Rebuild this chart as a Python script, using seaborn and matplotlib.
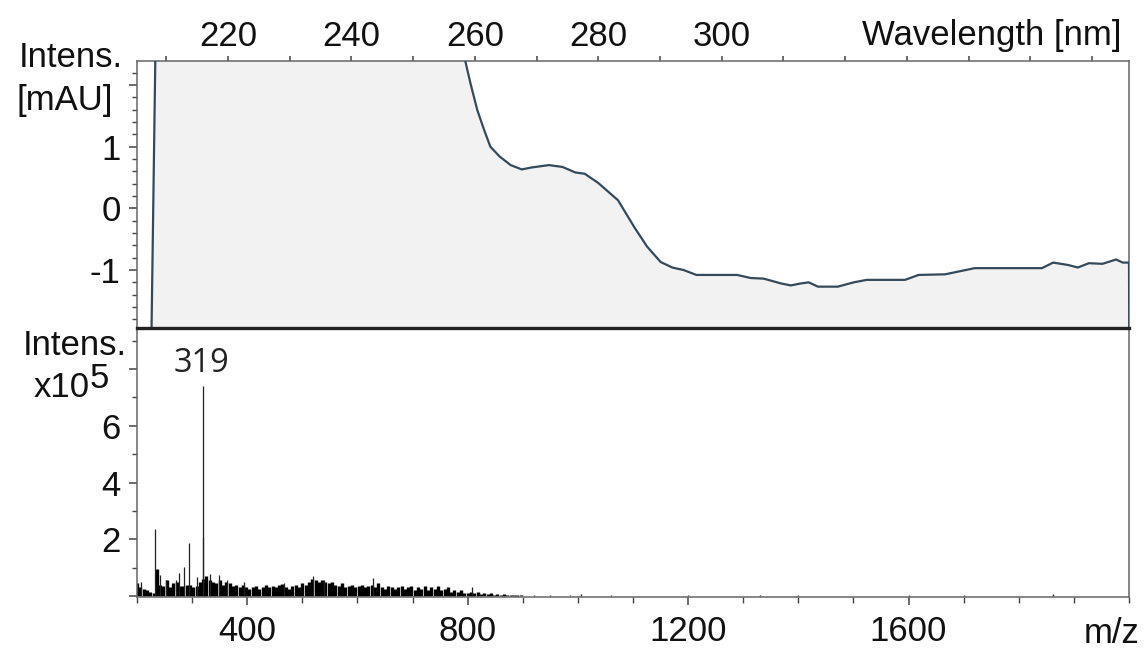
import matplotlib
matplotlib.use("Agg")
import matplotlib.pyplot as plt
import seaborn as sns
import pandas as pd
import numpy as np

# ---------------- data ----------------
# UV spectrum (top panel)
wavelength = [207.6, 208.3, 258.3, 259.3, 260.4, 261.5, 262.5, 264.0, 265.8, 267.6,
              269.1, 272.0, 274.2, 276.3, 277.8, 280.0, 283.2, 285.8, 287.9, 290.1,
              292.0, 293.8, 295.9, 302.5, 304.7, 306.8, 309.7, 311.2, 312.7, 314.1,
              315.6, 318.8, 321.4, 323.5, 329.7, 331.9, 336.2, 341.0, 351.9, 353.7,
              356.2, 357.7, 359.5, 361.7, 363.9, 365.0, 366.0, 366.05]
intensity_mau = [-2.0, 3.0, 2.45, 2.02, 1.59, 1.27, 1.00, 0.84, 0.70, 0.63,
                 0.66, 0.70, 0.67, 0.58, 0.56, 0.41, 0.13, -0.30, -0.62, -0.87,
                 -0.96, -1.00, -1.08, -1.08, -1.13, -1.14, -1.22, -1.25, -1.22, -1.20,
                 -1.27, -1.27, -1.20, -1.16, -1.16, -1.08, -1.07, -0.97, -0.97, -0.88,
                 -0.92, -0.96, -0.89, -0.90, -0.83, -0.88, -0.88, -2.0]

# Mass spectrum (bottom panel), intensities in units of 1e5
peak_mz = [208, 233, 242, 253, 270, 276, 286, 294, 309, 319, 320, 333, 348, 364,
           394, 467, 520, 540, 629, 807]
peak_int = [0.50, 2.35, 0.74, 0.56, 0.56, 0.82, 1.01, 1.88, 0.68, 7.42, 2.09, 0.78,
            0.74, 0.56, 0.50, 0.45, 0.70, 0.58, 0.62, 0.33]

bg_mz = [200, 206, 212, 218, 224, 230, 236, 242, 248, 254, 260, 266, 272, 278, 284,
         290, 296, 302, 308, 314, 320, 326, 332, 338, 344, 350, 356, 362, 368, 374,
         380, 386, 392, 398, 404, 410, 416, 422, 428, 434, 440, 446, 452, 458, 464,
         470, 476, 482, 488, 494, 500, 506, 512, 518, 524, 530, 536, 542, 548, 554,
         560, 566, 572, 578, 584, 590, 596, 602, 608, 614, 620, 626, 632, 638, 644,
         650, 656, 662, 668, 674, 680, 686, 692, 698, 704, 710, 716, 722, 728, 734,
         740, 746, 752, 758, 764, 770, 776, 782, 788, 794, 800, 806, 812, 818, 824,
         830, 836, 842, 848, 854, 860, 866, 872, 878, 884, 890, 896]
bg_int = [0.45, 0.30, 0.25, 0.20, 0.15, 0.12, 0.95, 0.40, 0.35, 0.55, 0.30, 0.45,
          0.50, 0.35, 0.35, 0.40, 0.40, 0.30, 0.35, 0.50, 0.60, 0.70, 0.55, 0.50,
          0.45, 0.55, 0.40, 0.50, 0.45, 0.35, 0.40, 0.30, 0.40, 0.30, 0.25, 0.30,
          0.35, 0.25, 0.30, 0.40, 0.30, 0.35, 0.30, 0.40, 0.42, 0.30, 0.25, 0.35,
          0.40, 0.30, 0.45, 0.40, 0.50, 0.60, 0.55, 0.50, 0.55, 0.50, 0.45, 0.50,
          0.40, 0.35, 0.45, 0.30, 0.35, 0.40, 0.30, 0.35, 0.40, 0.30, 0.35, 0.40,
          0.30, 0.45, 0.30, 0.25, 0.35, 0.30, 0.25, 0.30, 0.35, 0.25, 0.30, 0.35,
          0.20, 0.30, 0.25, 0.35, 0.20, 0.30, 0.25, 0.35, 0.20, 0.25, 0.30, 0.15,
          0.20, 0.15, 0.20, 0.12, 0.10, 0.15, 0.12, 0.15, 0.08, 0.10, 0.06, 0.12,
          0.05, 0.08, 0.04, 0.06, 0.03, 0.04, 0.02, 0.03, 0.02]

tail_mz = [920, 950, 985, 1005, 1060, 1200, 1330, 1400, 1600, 1700, 1862]
tail_int = [0.04, 0.03, 0.05, 0.06, 0.02, 0.05, 0.03, 0.04, 0.03, 0.02, 0.08]

wl_ticks = [210, 220, 230, 240, 250, 260, 270, 280, 290, 300, 310, 320, 330, 340, 350, 360]
wl_labels = ["", "220", "", "240", "", "260", "", "280", "", "300", "", "", "", "", "", ""]
mau_ticks = [-1, 0, 1, 2]
mau_labels = ["-1", "0", "1", ""]
mz_major = [400, 800, 1200, 1600]
mz_labels = ["400", "800", "1200", "1600"]
mz_minor = [200, 300, 500, 600, 700, 900, 1000, 1100, 1300, 1400, 1500, 1700, 1800, 1900, 2000]
ms_ticks = [0, 2, 4, 6, 8]
ms_labels = ["", "2", "4", "6", ""]
ms_minor = [1, 3, 5, 7, 9]

# ---------------- style ----------------
sns.set_theme(style="ticks")
plt.rcParams["font.family"] = ["Liberation Sans", "DejaVu Sans"]
plt.rcParams["text.color"] = "#111111"
plt.rcParams["xtick.labelcolor"] = "#111111"
plt.rcParams["ytick.labelcolor"] = "#111111"
FS = 25
W, H = 1146, 650

fig = plt.figure(figsize=(W / 100, H / 100), dpi=100)

def fx(x):
    return x / W

def fy(y):
    return 1 - y / H

left_px, right_px = 137, 1129
ax1 = fig.add_axes([fx(left_px), fy(328), (right_px - left_px) / W, (328 - 61) / H])
ax2 = fig.add_axes([fx(left_px), fy(597), (right_px - left_px) / W, (597 - 328) / H])

spine_col = "#666666"
tick_col = "#444444"

# ---------------- top panel: UV ----------------
uv = pd.DataFrame({"wl": wavelength, "int": intensity_mau})
ax1.set_xlim(205.25, 366.0)
ax1.set_ylim(-1.94, 2.387)
ax1.fill_between(uv["wl"], uv["int"], -5, color="#f2f2f2", zorder=1, linewidth=0)
sns.lineplot(data=uv, x="wl", y="int", ax=ax1, color="#34495a", linewidth=1.6,
             estimator=None, sort=False, zorder=3)
ax1.set_xlabel("")
ax1.set_ylabel("")
ax1.xaxis.tick_top()
ax1.set_xticks(wl_ticks)
ax1.set_xticklabels(wl_labels)
ax1.set_yticks(mau_ticks)
ax1.set_yticklabels(mau_labels)
ax1.yaxis.set_minor_locator(matplotlib.ticker.MultipleLocator(0.2))
ax1.tick_params(axis="x", which="major", length=3.6, width=1.1, color=tick_col,
                labelsize=FS, pad=2.5, direction="out")
ax1.tick_params(axis="y", which="major", length=5.8, width=1.1, color=tick_col,
                labelsize=FS, pad=6, direction="out")
ax1.tick_params(axis="y", which="minor", length=3.6, width=1.0, color=tick_col, direction="out")
for s in ["top", "left", "right"]:
    ax1.spines[s].set_visible(True)
    ax1.spines[s].set_color(spine_col)
    ax1.spines[s].set_linewidth(1.1)
ax1.spines["bottom"].set_color("#222222")
ax1.spines["bottom"].set_linewidth(2.4)
ax1.spines["bottom"].set_zorder(5)

# ---------------- bottom panel: MS ----------------
ax2.set_xlim(200, 2000)
ax2.set_ylim(-0.035, 9.45)
ax2.vlines(bg_mz, 0, bg_int, color="#000000", linewidth=2.4)
ax2.vlines(tail_mz, 0, tail_int, color="#222222", linewidth=1.0)
ax2.vlines(peak_mz, 0, peak_int, color="#222222", linewidth=0.9)
ax2.set_xticks(mz_major)
ax2.set_xticklabels(mz_labels)
ax2.set_xticks(mz_minor, minor=True)
ax2.set_yticks(ms_ticks)
ax2.set_yticklabels(ms_labels)
ax2.set_yticks(ms_minor, minor=True)
ax2.tick_params(axis="x", which="major", length=5.5, width=1.1, color=tick_col,
                labelsize=FS, pad=7.5, direction="out")
ax2.tick_params(axis="x", which="minor", length=4.5, width=1.0, color=tick_col, direction="out")
ax2.tick_params(axis="y", which="major", length=5.8, width=1.1, color=tick_col,
                labelsize=FS, pad=6, direction="out")
ax2.tick_params(axis="y", which="minor", length=3.6, width=1.0, color=tick_col, direction="out")
ax2.spines["top"].set_visible(False)
for s in ["left", "bottom", "right"]:
    ax2.spines[s].set_visible(True)
    ax2.spines[s].set_color(spine_col)
    ax2.spines[s].set_linewidth(1.1)
ax2.set_facecolor("white")
ax1.set_zorder(2)

# annotation of main peak
ax2.annotate("319", xy=(319, 7.42), xytext=(-1, 10), textcoords="offset points",
             ha="center", va="baseline", fontsize=23.5,
             family=["Open Sans", "DejaVu Sans"], color="#222222")

# ---------------- axis titles as free text ----------------
fig.text(fx(1122), fy(45), "Wavelength [nm]", ha="right", va="baseline", fontsize=FS)
fig.text(fx(123), fy(67), "Intens.", ha="right", va="baseline", fontsize=FS)
fig.text(fx(113), fy(110), "[mAU]", ha="right", va="baseline", fontsize=FS)
fig.text(fx(127), fy(355), "Intens.", ha="right", va="baseline", fontsize=FS)
fig.text(fx(90), fy(397), "x10", ha="right", va="baseline", fontsize=FS)
fig.text(fx(90), fy(388), "5", ha="left", va="baseline", fontsize=FS)
fig.text(fx(1140), fy(643), "m/z", ha="right", va="baseline", fontsize=FS)

fig.savefig("out.png", dpi=100)
